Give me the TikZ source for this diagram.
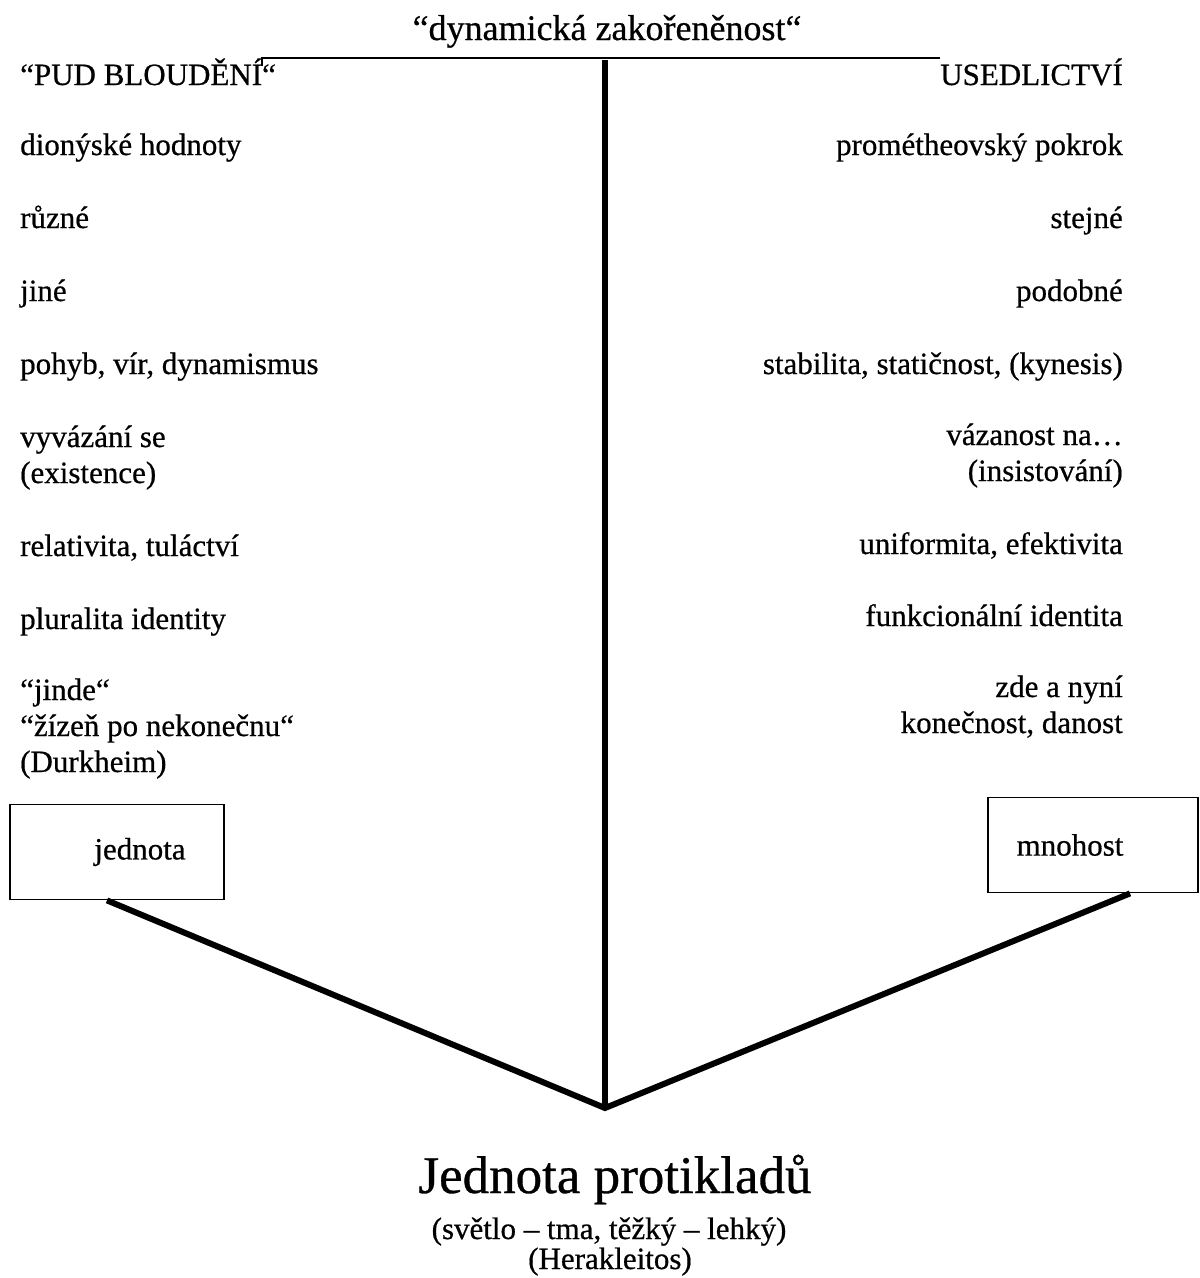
\documentclass[tikz,border=0pt]{standalone}
\usepackage{fontspec}
\setmainfont{Liberation Serif}[FakeBold=0.6]
\usepackage{tikz}
\usetikzlibrary{positioning}
\tikzset{x=1pt,y=-1pt,
  txt/.style={inner sep=0pt,font=\fontsize{31}{36}\selectfont},
  lft/.style={txt,anchor=base west,align=left},
  rgt/.style={txt,anchor=base east,align=right},
  box/.style={draw,line width=1.8pt,inner sep=0pt,font=\fontsize{31}{36}\selectfont},
  bar/.style={line width=6pt}}

\begin{document}
\begin{tikzpicture}
    \useasboundingbox (0,0) rectangle (1200,1278);
    \node[txt,anchor=base,font=\fontsize{36}{40}\selectfont] (top) at (607,40) {“dynamická zakořeněnost“};
    \coordinate (hl) at (262,58);
    \coordinate (hr) at (940,58);
    \draw[line width=2pt] ([yshift=-8pt]hl) -- (hl) -- (hr);
    % left column
    \node[lft] (l1) at (20,85) {“PUD BLOUDĚNÍ“};
    \node[lft] (l2) at (20,155) {dionýské hodnoty};
    \node[lft] (l3) at (20,228) {různé};
    \node[lft] (l4) at (20,301) {jiné};
    \node[lft] (l5) at (20,374) {pohyb, vír, dynamismus};
    \node[lft] (l6) at (20,483) {vyvázání se\\(existence)};
    \node[lft] (l7) at (20,556) {relativita, tuláctví};
    \node[lft] (l8) at (20,629) {pluralita identity};
    \node[lft] (l9) at (20,772) {“jinde“\\“žízeň po nekonečnu“\\(Durkheim)};
    % right column
    \node[rgt] (r1) at (1123,85) {USEDLICTVÍ};
    \node[rgt] (r2) at (1123,155) {prométheovský pokrok};
    \node[rgt] (r3) at (1123,228) {stejné};
    \node[rgt] (r4) at (1123,301) {podobné};
    \node[rgt] (r5) at (1123,374) {stabilita, statičnost, (kynesis)};
    \node[rgt] (r6) at (1123,481) {vázanost na\dots\\(insistování)};
    \node[rgt] (r7) at (1123,554) {uniformita, efektivita};
    \node[rgt] (r8) at (1123,626) {funkcionální identita};
    \node[rgt] (r9) at (1123,733) {zde a nyní\\konečnost, danost};
    % boxes
    \node[box,minimum width=214,minimum height=95] (jbox) at (117,852) {\hspace*{46pt}jednota};
    \node[box,minimum width=210,minimum height=95] (mbox) at (1093,845) {mnohost\hspace*{46pt}};
    % the fork
    \coordinate (vtx) at (605,1108);
    \coordinate (vtop) at (605,60);
    \draw[bar] (vtop) -- (vtx);
    \draw[bar,line join=miter] ([xshift=-10pt]jbox.south) -- (vtx) -- ([xshift=37pt]mbox.south);
    % bottom
    \node[txt,anchor=base,font=\fontsize{53}{58}\selectfont] (jp) at (615,1193) {Jednota protikladů};
    \node[txt,anchor=base] (sub) at (609,1239) {(světlo – tma, těžký – lehký)};
    \node[txt,anchor=base] (her) at (610,1269) {(Herakleitos)};
\end{tikzpicture}
\end{document}
